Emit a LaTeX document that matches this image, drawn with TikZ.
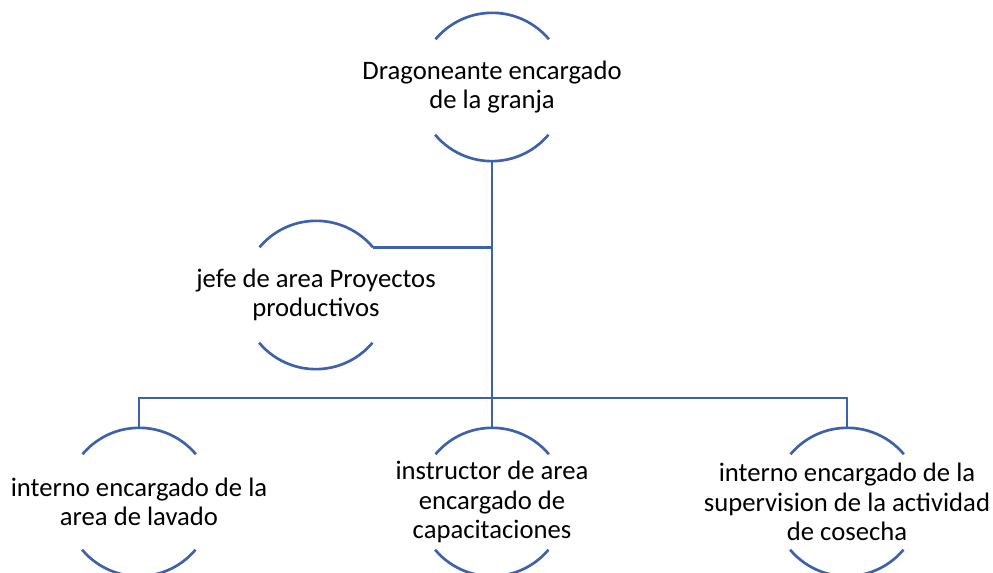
\documentclass[tikz,border=0pt]{standalone}
\usepackage{fontspec}
\setmainfont{Carlito}
\definecolor{lineblue}{RGB}{62,98,170}
\begin{document}
\begin{tikzpicture}[x=0.75pt,y=0.75pt,
  ring/.style={circle,draw=none,minimum size=111pt,inner sep=0pt},
  lbl/.style={align=center,font=\fontsize{20}{22}\selectfont,inner sep=0pt},
  arcline/.style={draw=lineblue,line width=2pt},
  conn/.style={draw=lineblue,line width=2pt}]
\useasboundingbox (0,0) rectangle (993,573);
\node[ring] (c1) at (492,486) {};
\node[ring] (c2) at (316,278) {};
\node[ring] (c3) at (139,71) {};
\node[ring] (c4) at (492,71) {};
\node[ring] (c5) at (847,71) {};
\foreach \n in {c1,c2,c3,c4,c5}{
  \draw[arcline] (\n.40) arc[start angle=40,end angle=140,radius=55.5pt];
  \draw[arcline] (\n.220) arc[start angle=220,end angle=320,radius=55.5pt];
}
\node[lbl] (t1) at (c1.center) {Dragoneante encargado\\de la granja};
\node[lbl] (t2) at (c2.center) {jefe de area Proyectos\\productivos};
\node[lbl] (t3) at (c3.center) {interno encargado de la\\area de lavado};
\node[lbl] (t4) at (c4.center) {instructor de area\\encargado de\\capacitaciones};
\node[lbl] (t5) at (c5.center) {interno encargado de la\\supervision de la actividad\\de cosecha};
\coordinate (bus) at (492,175);
\draw[conn] (c1.south) -- (c4.north);
\draw[conn] (c2.40) -- (c2.40 -| c1.south);
\draw[conn] (c3.north) -- (c3.north |- bus) -- (c5.north |- bus) -- (c5.north);
\end{tikzpicture}
\end{document}
